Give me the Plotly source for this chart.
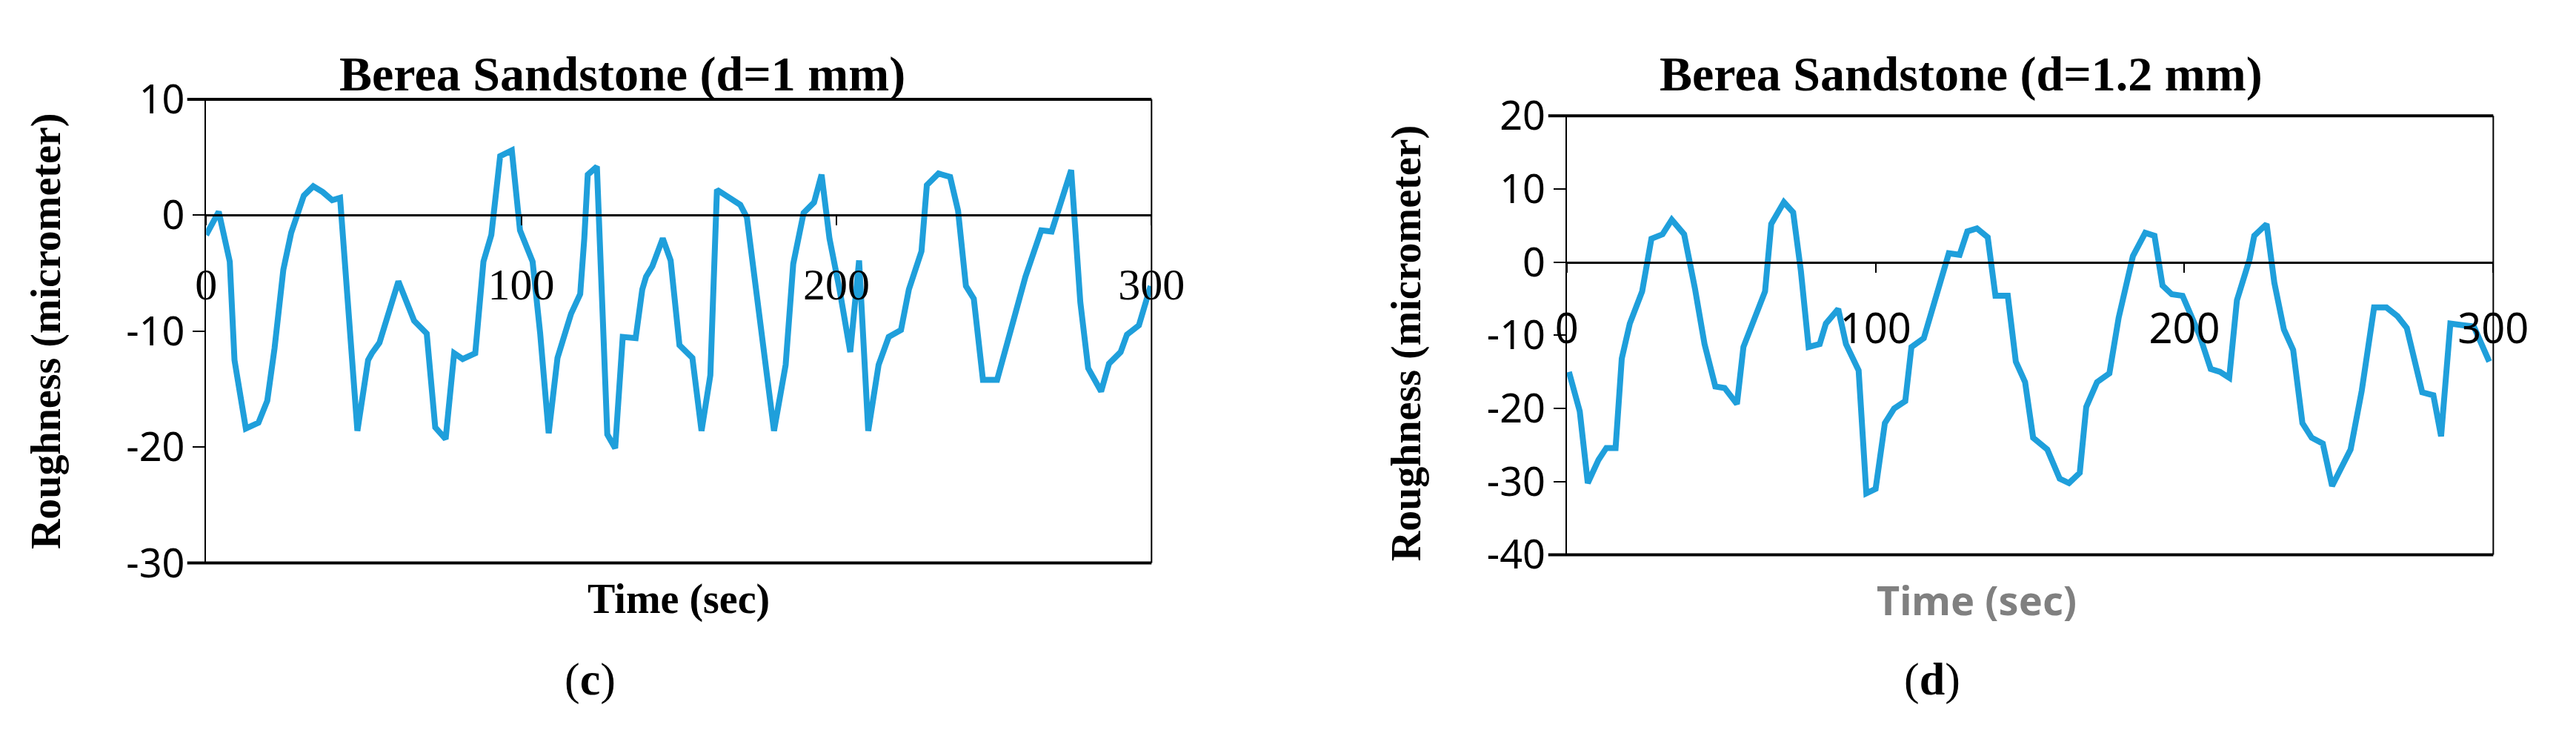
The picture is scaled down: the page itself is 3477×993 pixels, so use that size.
import plotly.graph_objects as go

# Chart (c): d = 1 mm
t_c = [0, 4, 7.5, 9, 12.6, 16.6, 19.4, 21.7, 24.5, 27, 31, 34, 37, 40, 42.5, 45, 48, 51.4, 52.6, 55, 58.5, 61,
       66, 70, 72.7, 76, 78.7, 81.4, 85.4, 88, 90.5, 93.3, 97, 99.6, 103.6, 106, 108.7, 111.5, 115.8, 118.7,
       120, 121.1, 124, 126, 127.3, 129.8, 132.2, 136.3, 138.4, 139.6, 141.6, 144.9, 147.4, 150.2, 154.3,
       157.2, 160, 162.1, 164.2, 169.5, 171.6, 175.7, 180.2, 183.9, 186.3, 189.6, 192.9, 195.3, 197.8, 201,
       204.4, 207.2, 210.1, 213.4, 216.6, 220.5, 223, 227, 228.7, 232.4, 236.1, 238.6, 241.1, 243.6, 246.5,
       251, 253.9, 260, 265, 268.3, 274.5, 277.4, 279.9, 284, 286.5, 290.2, 292.2, 296, 299.7]
r_c = [-1.7, 0.3, -4, -12.5, -18.4, -17.9, -16, -11.5, -4.7, -1.5, 1.7, 2.5, 2, 1.3, 1.5, -8.3, -18.6, -12.5,
       -11.9, -11, -7.9, -5.7, -9.1, -10.2, -18.3, -19.3, -11.9, -12.4, -11.9, -4, -1.7, 5.1, 5.6, -1.3, -4,
       -10.2, -18.8, -12.3, -8.5, -6.8, -2, 3.5, 4.2, -8.5, -18.9, -20.1, -10.5, -10.6, -6.4, -5.3, -4.4, -2,
       -3.9, -11.2, -12.3, -18.6, -13.8, 2.2, 1.8, 0.9, -0.2, -8.6, -18.6, -12.9, -4.2, 0.2, 1.1, 3.5, -2,
       -6.4, -11.8, -3.9, -18.6, -12.9, -10.5, -9.9, -6.4, -3.1, 2.6, 3.6, 3.3, 0.4, -6.1, -7.2, -14.2,
       -14.2, -11.2, -5.3, -1.3, -1.4, 3.9, -7.5, -13.2, -15.2, -12.8, -11.8, -10.3, -9.5, -6.1]

# Chart (d): d = 1.2 mm
t_d = [0.7, 4.2, 6.8, 10.3, 12.8, 15.8, 17.8, 20.4, 24.4, 27.4, 31, 34, 38, 41.5, 44.6, 48.1, 51.1, 55.1,
       57.2, 61.7, 64.2, 66.2, 70.3, 73.3, 75.8, 78.3, 81.9, 83.9, 87.9, 90.4, 94.5, 97, 100, 103, 106, 109.6,
       111.6, 115.6, 120.2, 123.7, 127.2, 129.7, 132.8, 136.3, 138.8, 142.8, 145.4, 148.4, 151, 155.6, 159.6,
       162.6, 166.1, 168.2, 171.7, 175.7, 178.7, 183.3, 187.3, 190.3, 192.9, 195.9, 199.4, 204.9, 208.5,
       211.5, 214.5, 217, 221.1, 222.6, 226.6, 229.1, 232.2, 235.2, 238.2, 241.2, 244.8, 247.8, 253.8,
       257.4, 261.4, 265.4, 269, 272, 277, 280.6, 283.1, 286.1, 289.6, 293.7, 298.7]
r_d = [-15, -20.4, -30.2, -27, -25.4, -25.4, -13.2, -8.4, -4, 3.2, 3.8, 5.8, 3.8, -3.6, -11.2, -17, -17.2,
       -19.4, -11.6, -6.8, -4, 5.2, 8.2, 6.8, -1.2, -11.6, -11.2, -8.4, -6.4, -11.2, -14.8, -31.6, -31, -22,
       -20, -19, -11.6, -10.4, -3.6, 1.2, 1, 4.2, 4.6, 3.4, -4.6, -4.6, -13.6, -16.4, -24, -25.6, -29.6,
       -30.2, -28.8, -19.8, -16.4, -15.2, -7.6, 0.8, 4, 3.6, -3.2, -4.4, -4.6, -10, -14.6, -15, -15.8, -5.2,
       0.4, 3.6, 5.2, -2.8, -9.2, -12, -22, -24, -24.8, -30.6, -25.6, -17.6, -6.2, -6.2, -7.4, -9, -17.8,
       -18.2, -23.8, -8.4, -8.6, -8.8, -13.6]

x_ticks = [0, 100, 200, 300]
y_ticks_c = [-30, -20, -10, 0, 10]
y_ticks_d = [-40, -30, -20, -10, 0, 10, 20]

BLUE = "#1f9fdb"
W, H = 3477, 993
dom_c_x = [259 / W, 1559 / W]
dom_c_y = [1 - 770 / H, 1 - 94 / H]
dom_d_x = [2130 / W, 3404 / W]
dom_d_y = [1 - 758 / H, 1 - 118 / H]

fig = go.Figure()
fig.add_trace(go.Scatter(x=t_c, y=r_c, mode="lines", line=dict(color=BLUE, width=8),
                         xaxis="x", yaxis="y", showlegend=False))
fig.add_trace(go.Scatter(x=t_d, y=r_d, mode="lines", line=dict(color=BLUE, width=8),
                         xaxis="x2", yaxis="y2", showlegend=False))

pos_c = dom_c_y[0] + 0.75 * (dom_c_y[1] - dom_c_y[0])
pos_d = dom_d_y[0] + (2 / 3) * (dom_d_y[1] - dom_d_y[0])

sans = "Noto Sans"
serif = "Liberation Serif"

fig.update_layout(
    width=W, height=H, margin=dict(l=0, r=0, t=0, b=0),
    paper_bgcolor="white", plot_bgcolor="white",
    xaxis=dict(domain=dom_c_x, range=[0, 300], tickvals=x_ticks, anchor="free", position=pos_c,
               showline=True, linecolor="black", linewidth=3, ticks="outside", ticklen=12, tickwidth=2,
               tickcolor="black", ticklabelstandoff=28, showgrid=False, zeroline=False,
               tickfont=dict(family=serif, size=60, color="black")),
    yaxis=dict(domain=dom_c_y, range=[-30, 10], tickvals=y_ticks_c, ticktext=[str(v) for v in y_ticks_c],
               anchor="x", showline=True, linecolor="black", linewidth=2, ticks="outside", ticklen=16,
               tickwidth=2, tickcolor="black", showgrid=False, zeroline=False,
               tickfont=dict(family=sans, size=54, color="black")),
    xaxis2=dict(domain=dom_d_x, range=[0, 300], tickvals=x_ticks, anchor="free", position=pos_d,
                showline=True, linecolor="black", linewidth=3, ticks="outside", ticklen=12, tickwidth=2,
                tickcolor="black", ticklabelstandoff=28, showgrid=False, zeroline=False,
                tickfont=dict(family=sans, size=56, color="black")),
    yaxis2=dict(domain=dom_d_y, range=[-40, 20], tickvals=y_ticks_d, ticktext=[str(v) for v in y_ticks_d],
                anchor="x2", showline=True, linecolor="black", linewidth=2, ticks="outside", ticklen=16,
                tickwidth=2, tickcolor="black", showgrid=False, zeroline=False,
                tickfont=dict(family=sans, size=54, color="black")),
)

shapes = []
for xa, ya in (("x", "y"), ("x2", "y2")):
    for y0 in (0, 1):
        shapes.append(dict(type="line", xref=f"{xa} domain", yref=f"{ya} domain",
                           x0=-0.02, x1=1, y0=y0, y1=y0, line=dict(color="black", width=4)))
    shapes.append(dict(type="line", xref=f"{xa} domain", yref=f"{ya} domain",
                       x0=1, x1=1, y0=0, y1=1, line=dict(color="black", width=2)))
fig.update_layout(shapes=shapes)

ann = [
    dict(text="<b>Berea Sandstone (d=1 mm)</b>", x=831 / W, y=1 - 57 / H, font=dict(family=serif, size=66)),
    dict(text="<b>Berea Sandstone (d=1.2 mm)</b>", x=2672 / W, y=1 - 57 / H, font=dict(family=serif, size=66)),
    dict(text="<b>Roughness (micrometer)</b>", x=40 / W, y=1 - 432 / H, textangle=-90,
         font=dict(family=serif, size=56)),
    dict(text="<b>Roughness (micrometer)</b>", x=1910 / W, y=1 - 450 / H, textangle=-90,
         font=dict(family=serif, size=56)),
    dict(text="<b>Time (sec)</b>", x=909 / W, y=1 - 823 / H, font=dict(family=serif, size=56)),
    dict(text="<b>Time (sec)</b>", x=2694 / W, y=1 - 823 / H, font=dict(family=sans, size=54, color="#808080")),
    dict(text="(<b>c</b>)", x=787 / W, y=1 - 940 / H, font=dict(family=serif, size=62)),
    dict(text="(<b>d</b>)", x=2632 / W, y=1 - 940 / H, font=dict(family=serif, size=62)),
]
for a in ann:
    a.update(xref="paper", yref="paper", showarrow=False, xanchor="center", yanchor="middle")
    a["font"].setdefault("color", "black")
fig.update_layout(annotations=ann)

fig.write_html("out.html")
